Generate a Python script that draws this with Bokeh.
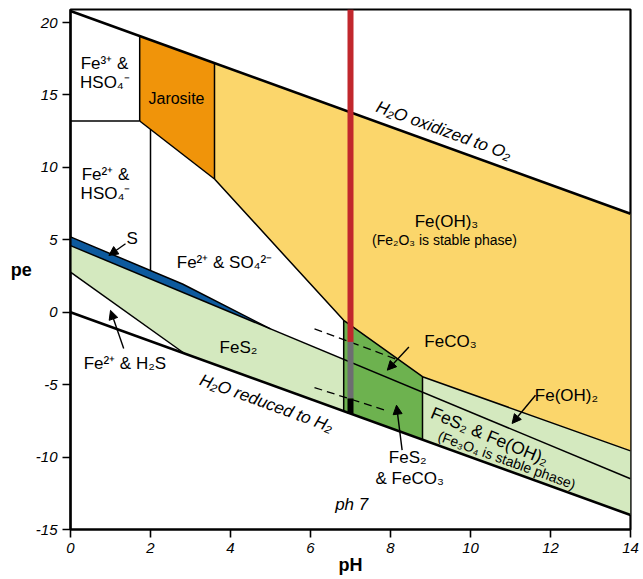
import math
from bokeh.plotting import figure
from bokeh.models import Range1d, FixedTicker, Label, Arrow, NormalHead
from bokeh.embed import file_html
from bokeh.resources import INLINE

# ---------------- data (pH, pe) ----------------
ph_ticks = [0, 2, 4, 6, 8, 10, 12, 14]
pe_ticks = [-15, -10, -5, 0, 5, 10, 15, 20]

# water stability limits
o2_ph = [0, 14]
o2_pe = [20.8, 6.8]
h2_ph = [0, 14]
h2_pe = [0, -14]

# stability fields (polygons)
fe_oh3_ph = [3.6, 14, 14, 8.8, 6.83, 3.6]
fe_oh3_pe = [17.2, 6.8, -9.57, -4.45, -0.56, 9.2]
jarosite_ph = [1.73, 3.6, 3.6, 1.73]
jarosite_pe = [19.07, 17.2, 9.2, 13.2]
feco3_ph = [6.83, 8.8, 8.8, 6.83]
feco3_pe = [-0.56, -4.45, -8.8, -6.83]
fes2_ph = [0, 6.83, 6.83, 2.85, 0]
fes2_pe = [4.6, -3.255, -6.83, -2.85, 2.77]
fes2_feoh2_ph = [8.8, 14, 14, 8.8]
fes2_feoh2_pe = [-4.45, -9.57, -14, -8.8]
sulfur_ph = [0, 2.8, 5.0, 0]
sulfur_pe = [5.2, 1.95, -1.15, 4.6]

# internal boundaries
bnd_ph = [[0, 1.73], [1.73, 1.73], [3.6, 3.6], [1.73, 3.6], [2.0, 2.0],
          [3.6, 6.83, 8.8, 14], [6.83, 6.83], [8.8, 8.8], [0, 14],
          [0, 2.8, 5.0], [0, 2.85]]
bnd_pe = [[13.2, 13.2], [13.2, 19.07], [9.2, 17.2], [13.2, 9.2], [12.62, 2.88],
          [9.2, -0.56, -4.45, -9.57], [-0.56, -6.83], [-4.45, -8.8], [4.6, -11.5],
          [5.2, 1.95, -1.15], [2.77, -2.85]]

# dashed boundaries
dash_ph = [[6.1, 8.25], [6.1, 7.9]]
dash_pe = [[-1.15, -3.35], [-5.2, -6.8]]

# pH 7 marker
mark_ph = 7.0
mark_top = [20.9, -2.05, -5.95]
mark_bot = [-2.05, -5.95, -7.0]
mark_col = ["#c1272d", "#6d6e71", "#000000"]

# labels
lab_text = ["Fe³⁺ &", "HSO₄⁻", "Jarosite", "Fe²⁺ &", "HSO₄⁻", "Fe²⁺ & SO₄²⁻", "S",
            "Fe(OH)₃", "(Fe₂O₃ is stable phase)", "FeS₂", "Fe²⁺ & H₂S", "FeCO₃",
            "FeS₂", "& FeCO₃", "Fe(OH)₂", "ph 7"]
lab_x = [0.85, 0.86, 2.65, 0.875, 0.875, 3.85, 1.54,
         9.4, 9.35, 4.2, 1.36, 9.5, 8.43, 8.48, 12.4, 7.03]
lab_y = [17.2, 15.85, 14.75, 9.5, 8.2, 3.45, 5.08,
         6.27, 4.96, -2.42, -3.52, -2.0, -10.0, -11.5, -5.73, -13.25]
lab_size = ["17px", "17px", "16px", "17px", "17px", "17px", "17px",
            "17px", "14px", "17px", "17px", "17px", "17px", "17px", "17px", "17px"]
lab_style = ["normal"] * 15 + ["italic"]

rot_text = ["H₂O oxidized to O₂", "H₂O reduced to H₂", "FeS₂ & Fe(OH)₂", "(Fe₃O₄ is stable phase)"]
rot_x = [9.33, 4.9, 10.48, 10.91]
rot_y = [12.55, -6.28, -8.55, -10.21]
rot_slope = [-1.0, -1.0, -1.15, -1.0]
rot_size = ["17px", "17px", "17.5px", "14px"]
rot_style = ["italic", "italic", "normal", "normal"]

arr_x0 = [1.375, 1.33, 8.46, 8.29, 11.625]
arr_y0 = [4.73, -2.51, -2.4, -9.52, -5.73]
arr_x1 = [0.96, 1.0, 7.92, 8.15, 11.04]
arr_y1 = [3.92, 0.13, -4.0, -6.42, -7.68]

# ---------------- figure ----------------
W, H = 643, 579
ML, MR, MT, MB = 70, 13, 9, 50
p = figure(width=W, height=H, output_backend="svg", toolbar_location=None,
           x_range=Range1d(0, 14), y_range=Range1d(-15, 20.9),
           min_border_left=ML, min_border_right=MR, min_border_top=MT, min_border_bottom=MB)
p.grid.visible = False
p.outline_line_color = "black"
p.outline_line_width = 2.2
p.background_fill_color = "white"
p.border_fill_color = "white"

FONT = "Liberation Sans"
for ax, ticks in ((p.xaxis, ph_ticks), (p.yaxis, pe_ticks)):
    ax.ticker = FixedTicker(ticks=ticks)
    ax.major_label_overrides = {t: str(t) for t in ticks}
    ax.axis_line_width = 2.2
    ax.major_tick_line_width = 1.6
    ax.major_tick_in = 0
    ax.major_tick_out = 8
    ax.minor_tick_line_color = None
    ax.major_label_text_font = FONT
    ax.major_label_text_font_style = "italic"
    ax.major_label_text_font_size = "15px"
    ax.major_label_text_color = "black"
    ax.major_label_standoff = 5
    ax.axis_label_text_font = FONT
    ax.axis_label_text_font_style = "bold"
    ax.axis_label_text_font_size = "18px"
    ax.axis_label_text_color = "black"

p.xaxis.axis_label = "pH"
p.xaxis.axis_label_standoff = -1
p.yaxis.axis_label = "pe"
p.yaxis.axis_label_standoff = 1
try:
    p.yaxis.axis_label_orientation = "horizontal"
except Exception:
    pass

# fields
p.patch(fe_oh3_ph, fe_oh3_pe, fill_color="#fbd66b", line_color=None)
p.patch(jarosite_ph, jarosite_pe, fill_color="#f0940a", line_color=None)
p.patch(fes2_ph, fes2_pe, fill_color="#d4e9bf", line_color=None)
p.patch(fes2_feoh2_ph, fes2_feoh2_pe, fill_color="#d4e9bf", line_color=None)
p.patch(feco3_ph, feco3_pe, fill_color="#6db24f", line_color=None)
p.patch(sulfur_ph, sulfur_pe, fill_color="#0d5a9e", line_color=None)

# boundaries
p.multi_line(bnd_ph, bnd_pe, line_color="black", line_width=1.5)
p.multi_line(dash_ph, dash_pe, line_color="black", line_width=1.3, line_dash="8 5")
p.line(o2_ph, o2_pe, line_color="black", line_width=2.6)
p.line(h2_ph, h2_pe, line_color="black", line_width=2.6)

# pH 7 marker
p.segment(x0=[mark_ph] * 3, y0=mark_top, x1=[mark_ph] * 3, y1=mark_bot,
          line_color=mark_col, line_width=6, line_cap="butt")

# screen scale for rotated labels
sx = (W - ML - MR) / 14.0
sy = (H - MT - MB) / 35.9

for t, x, y, s, st in zip(lab_text, lab_x, lab_y, lab_size, lab_style):
    p.add_layout(Label(x=x, y=y, text=t, text_align="center", text_baseline="middle",
                       text_font=FONT, text_font_size=s, text_font_style=st, text_color="black"))

for t, x, y, sl, s, st in zip(rot_text, rot_x, rot_y, rot_slope, rot_size, rot_style):
    ang = math.atan(sl * sy / sx)
    p.add_layout(Label(x=x, y=y, text=t, angle=ang, text_align="center", text_baseline="middle",
                       text_font=FONT, text_font_size=s, text_font_style=st, text_color="black"))

for x0, y0, x1, y1 in zip(arr_x0, arr_y0, arr_x1, arr_y1):
    p.add_layout(Arrow(end=NormalHead(size=9, line_color="black", fill_color="black", line_width=1),
                       x_start=x0, y_start=y0, x_end=x1, y_end=y1,
                       line_color="black", line_width=1.4))

open("out.html", "w").write(file_html(p, INLINE))
